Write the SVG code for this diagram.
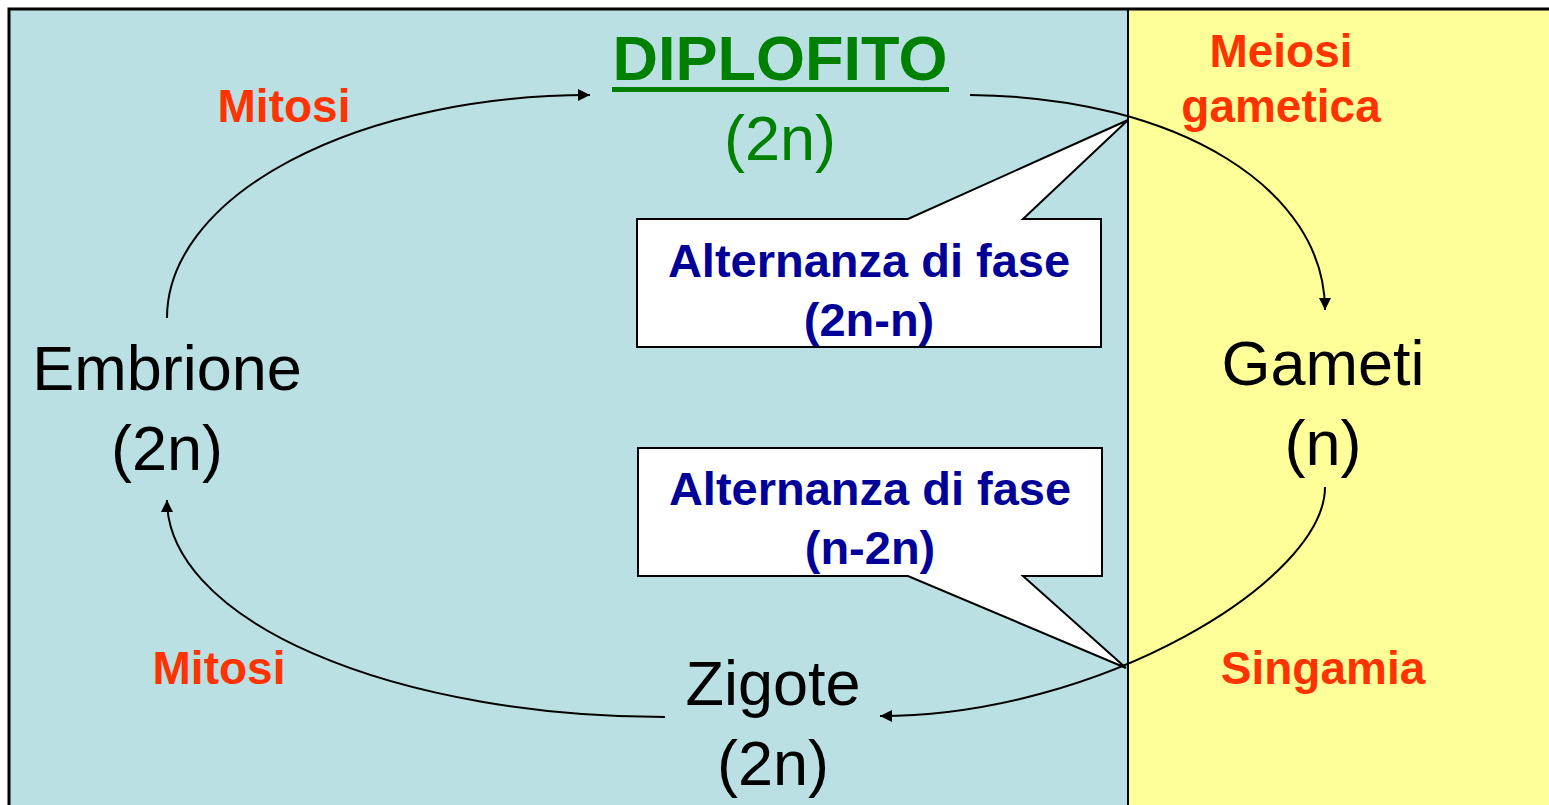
<svg xmlns="http://www.w3.org/2000/svg" width="1549" height="805" viewBox="0 0 1549 805">
<style>
.lbl{font-family:"Liberation Sans",Arial,sans-serif;font-weight:bold;font-size:46px;fill:#FF3300;text-anchor:middle}
.node{font-family:"Liberation Sans",Arial,sans-serif;font-size:63px;fill:#000;text-anchor:middle}
.call{font-family:"Liberation Sans",Arial,sans-serif;font-weight:bold;font-size:47px;fill:#000099;text-anchor:middle}
.conn{fill:none;stroke:#000;stroke-width:2}
.box{fill:#fff;stroke:#000;stroke-width:2}
</style>
<defs>
<marker id="ah" viewBox="0 0 10 10" refX="10" refY="5" markerWidth="14" markerHeight="12" markerUnits="userSpaceOnUse" orient="auto">
<path d="M0,0 L10,5 L0,10 z" fill="#000"/>
</marker>
</defs>
<rect x="0" y="0" width="1549" height="805" fill="#fff"/>
<rect id="phase-diploid" x="9" y="9" width="1119" height="800" fill="#BBE0E3"/>
<rect id="phase-haploid" x="1128" y="9" width="425" height="800" fill="#FFFF99"/>
<line x1="1128" y1="9" x2="1128" y2="805" stroke="#000" stroke-width="2"/>
<path d="M9,805 L9,9 L1549,9" fill="none" stroke="#000" stroke-width="3"/>

<g id="connectors">
<path class="conn" marker-end="url(#ah)" d="M167,318 A423,223 0 0 1 590,95"/>
<path class="conn" marker-end="url(#ah)" d="M970,95 C1180,97 1325,190 1325,310"/>
<path class="conn" marker-end="url(#ah)" d="M1325,487 C1325,580 1100,716 880,716"/>
<path class="conn" marker-end="url(#ah)" d="M665,717 A498,217 0 0 1 167,500"/>
</g>

<g id="callout-2n-n">
<path class="box" d="M637,219 L908,219 L1128,120 L1023,219 L1101,219 L1101,347 L637,347 Z"/>
<text class="call" x="869" y="277">Alternanza di fase</text>
<text class="call" x="869" y="336">(2n-n)</text>
</g>

<g id="callout-n-2n">
<path class="box" d="M638,448 L1102,448 L1102,576 L1023,576 L1126,668 L908,576 L638,576 Z"/>
<text class="call" x="870" y="505">Alternanza di fase</text>
<text class="call" x="870" y="564">(n-2n)</text>
</g>

<g id="diplofito">
<text x="780" y="80" font-family="Liberation Sans, Arial, sans-serif" font-weight="bold" font-size="63" fill="#008000" text-anchor="middle">DIPLOFITO</text>
<rect x="612" y="87" width="337" height="5" fill="#008000"/>
<text x="780" y="160" font-family="Liberation Sans, Arial, sans-serif" font-size="63" fill="#008000" text-anchor="middle">(2n)</text>
</g>

<g id="gameti">
<text class="node" x="1323" y="385">Gameti</text>
<text class="node" x="1323" y="465">(n)</text>
</g>

<g id="zigote">
<text class="node" x="773" y="705">Zigote</text>
<text class="node" x="773" y="785">(2n)</text>
</g>

<g id="embrione">
<text class="node" x="167" y="390">Embrione</text>
<text class="node" x="167" y="470">(2n)</text>
</g>

<g id="labels">
<text class="lbl" x="284" y="122">Mitosi</text>
<text class="lbl" x="1281" y="67">Meiosi</text>
<text class="lbl" x="1281" y="122">gametica</text>
<text class="lbl" x="219" y="684">Mitosi</text>
<text class="lbl" x="1323" y="684">Singamia</text>
</g>
</svg>
